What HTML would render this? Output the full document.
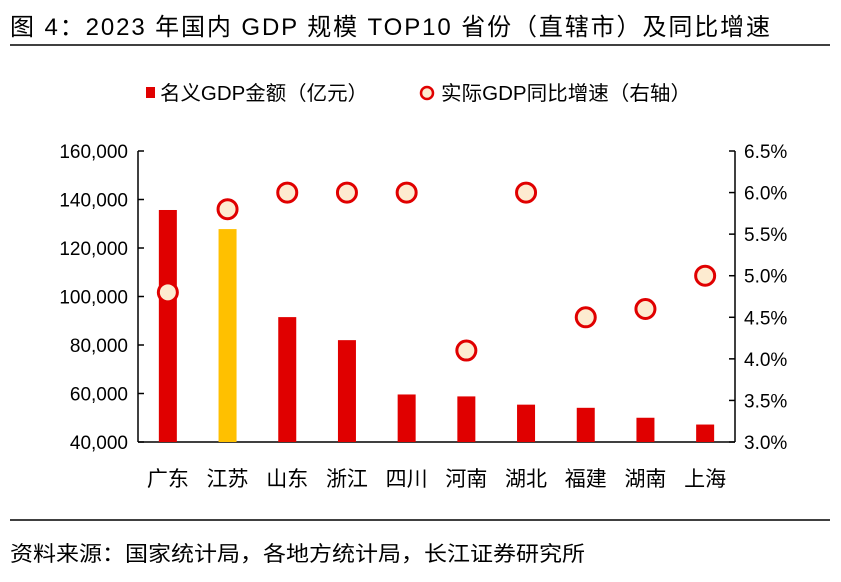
<!DOCTYPE html>
<html><head><meta charset="utf-8"><style>
body{margin:0;background:#fff;width:841px;height:577px;overflow:hidden;font-family:"Liberation Sans","Noto Sans CJK SC",sans-serif}
</style></head><body>
<svg width="841" height="577" xmlns="http://www.w3.org/2000/svg" font-family="Liberation Sans, Noto Sans CJK SC, sans-serif">
<text x="10" y="35" font-size="24" textLength="760" lengthAdjust="spacing" fill="#000">图 4：2023 年国内 GDP 规模 TOP10 省份（直辖市）及同比增速</text>
<line x1="10" y1="45" x2="830" y2="45" stroke="#000" stroke-width="1.5"/>
<g>
<rect x="146" y="87" width="9" height="11" fill="#e00000"/>
<text x="160" y="100" font-size="20" textLength="208" lengthAdjust="spacingAndGlyphs">名义GDP金额（亿元）</text>
<circle cx="427" cy="93" r="6" fill="#fdebd0" stroke="#e00000" stroke-width="2.5"/>
<text x="441" y="100" font-size="20" textLength="250" lengthAdjust="spacingAndGlyphs">实际GDP同比增速（右轴）</text>
</g>
<g id="chart"></g>
<line x1="10" y1="520" x2="830" y2="520" stroke="#000" stroke-width="1.5"/>
<text x="10" y="561" font-size="21" textLength="575" lengthAdjust="spacingAndGlyphs">资料来源：国家统计局，各地方统计局，长江证券研究所</text>
</svg>
<script>
const categories=["广东","江苏","山东","浙江","四川","河南","湖北","福建","湖南","上海"];
const gdpValues=[135673,127800,91500,82000,59600,58800,55400,54100,50000,47200];
const growthValues=[4.8,5.8,6.0,6.0,6.0,4.1,6.0,4.5,4.6,5.0];
const leftTicks=[40000,60000,80000,100000,120000,140000,160000];
const rightTicks=[3.0,3.5,4.0,4.5,5.0,5.5,6.0,6.5];
const NS="http://www.w3.org/2000/svg";
const g=document.getElementById('chart');
const x0=138,x1=735,yB=442,yT=151;
const yL=v=>yB-(v-40000)/120000*(yB-yT);
const yR=v=>yB-(v-3)/3.5*(yB-yT);
const step=(x1-x0)/categories.length;
const xC=i=>x0+step*(i+0.5);
function mk(t,a){const e=document.createElementNS(NS,t);for(const k in a)e.setAttribute(k,a[k]);g.appendChild(e);return e;}
let e;
e=mk('line',{x1:x0,y1:yT,x2:x0,y2:yB,stroke:'#000','stroke-width':1.5});


e=mk('line',{x1:x1,y1:yT,x2:x1,y2:yB,stroke:'#000','stroke-width':1.5});


e=mk('line',{x1:x0,y1:yB,x2:x1,y2:yB,stroke:'#000','stroke-width':1.5});


leftTicks.forEach(v=>{const y=yL(v);
e=mk('line',{x1:x0,y1:y,x2:x0+6,y2:y,stroke:'#000','stroke-width':1.5});


e=mk('text',{x:x0-10,y:y+7,'text-anchor':'end','font-size':19});e.textContent=v.toLocaleString('en-US');

});
rightTicks.forEach(v=>{const y=yR(v);
e=mk('line',{x1:x1-6,y1:y,x2:x1,y2:y,stroke:'#000','stroke-width':1.5});


e=mk('text',{x:x1+9,y:y+7,'font-size':19});e.textContent=v.toFixed(1)+'%';

});
categories.forEach((c,i)=>{
e=mk('rect',{x:xC(i)-9,y:yL(gdpValues[i]),width:18,height:yB-yL(gdpValues[i]),fill:i===1?'#ffc000':'#e00000'});


e=mk('text',{x:xC(i),y:yB+44,'text-anchor':'middle','font-size':21});e.textContent=c;

});
categories.forEach((c,i)=>{
e=mk('circle',{cx:xC(i),cy:yR(growthValues[i]),r:9.5,fill:'#fdebd0',stroke:'#e00000','stroke-width':3});

});
</script>
</body></html>
